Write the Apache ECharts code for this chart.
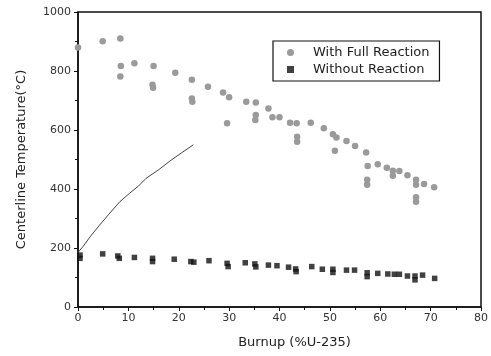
<!DOCTYPE html>
<html><head><meta charset="utf-8">
<script src="https://cdn.jsdelivr.net/npm/echarts@6/dist/echarts.min.js"></script>
<style>html,body{margin:0;padding:0;background:#fff}#c{width:491px;height:356px}</style>
</head><body><div id="c"></div>
<script>
var xTicks = [0,10,20,30,40,50,60,70,80];
var yTicks = [0,200,400,600,800,1000];
var withFullReaction = [
 [0,880],[4.9,901],[8.4,910],[8.5,817],[8.4,781],[11.2,826],[15.0,817],[14.8,753],[14.9,743],
 [19.3,794],[22.6,770],[22.6,707],[22.7,696],[25.8,747],[28.8,727],[30.0,711],[29.6,623],
 [33.4,696],[35.3,693],[35.3,651],[35.2,634],[37.8,673],[38.6,643],[40.0,643],[42.1,625],
 [43.4,623],[43.5,577],[43.5,560],[46.2,625],[48.8,606],[50.6,586],[51.3,575],[51.0,530],
 [53.3,563],[55.0,546],[57.2,524],[57.5,478],[59.5,484],[57.4,431],[57.4,414],[61.3,472],
 [62.5,462],[62.5,445],[63.8,461],[65.4,447],[67.1,431],[67.1,414],[67.1,372],[67.1,357],
 [68.7,417],[70.7,406]
];
var withoutReaction = [
 [0.4,176],[0.4,165],[4.9,180],[7.9,173],[8.2,165],[11.2,168],[14.8,165],[14.8,154],
 [19.1,162],[22.4,154],[23.0,152],[26.0,157],[29.6,148],[29.8,137],[33.2,150],[35.1,146],
 [35.3,136],[37.8,142],[39.5,140],[41.8,135],[43.2,129],[43.3,120],[46.4,137],[48.5,128],
 [50.6,128],[50.6,117],[53.3,125],[54.9,125],[57.4,116],[57.4,103],[59.5,114],[61.5,112],
 [62.8,111],[63.8,111],[65.4,105],[66.9,105],[66.9,92],[68.4,108],[70.8,97]
];
var modelLine = [
 [0,185],[1,205],[2.4,238],[4.3,278],[6,312],[8.3,357],[10.2,385],[12,410],[13.5,436],
 [16,465],[18.1,493],[20.5,522],[22.9,550]
];
var chart = echarts.init(document.getElementById('c'));
var font = 'DejaVu Sans';
chart.setOption({
  animation: false,
  backgroundColor: '#fff',
  grid: {left: 78, right: 7, top: 12, bottom: 49, show: true, borderColor: '#111', borderWidth: 1.5, backgroundColor: 'transparent'},
  legend: {
    left: 273, top: 41, width: 170, orient: 'vertical',
    borderColor: '#111', borderWidth: 1.2, padding: [5, 10, 5, 14], itemGap: 4,
    itemWidth: 7, itemHeight: 7,
    textStyle: {fontFamily: font, fontSize: 13, color: '#222', padding: [0,0,0,14]},
    data: [
      {name: 'With Full Reaction', icon: 'circle'},
      {name: 'Without Reaction', icon: 'rect'}
    ]
  },
  xAxis: {
    type: 'value', min: 0, max: 80, interval: 10,
    name: 'Burnup (%U-235)', nameLocation: 'middle', nameGap: 29,
    nameTextStyle: {fontFamily: font, fontSize: 13, color: '#222', padding: [0,0,0,30]},
    axisLine: {show: true, onZero: false, lineStyle: {color: '#111', width: 1.5}},
    axisTick: {show: true, inside: false, length: 4, lineStyle: {color: '#111'}},
    minorTick: {show: true, splitNumber: 2, length: 3, lineStyle: {color: '#111'}},
    splitLine: {show: false},
    axisLabel: {fontFamily: font, fontSize: 11, color: '#333', margin: 6,
      formatter: function(v){ return xTicks.indexOf(v) >= 0 ? String(v) : ''; }}
  },
  yAxis: {
    type: 'value', min: 0, max: 1000, interval: 200,
    name: 'Centerline Temperature(°C)', nameLocation: 'middle', nameGap: 50,
    nameTextStyle: {fontFamily: font, fontSize: 13, color: '#222'},
    axisLine: {show: true, onZero: false, lineStyle: {color: '#111', width: 1.5}},
    axisTick: {show: true, inside: false, length: 4, lineStyle: {color: '#111'}},
    minorTick: {show: true, splitNumber: 2, length: 3, lineStyle: {color: '#111'}},
    splitLine: {show: false},
    axisLabel: {fontFamily: font, fontSize: 11, color: '#333', margin: 7,
      formatter: function(v){ return yTicks.indexOf(v) >= 0 ? String(v) : ''; }}
  },
  series: [
    {name: 'With Full Reaction', type: 'scatter', data: withFullReaction, symbol: 'circle', symbolSize: 6.5,
     itemStyle: {color: '#9a9a9a', opacity: 1}},
    {name: 'Without Reaction', type: 'scatter', data: withoutReaction, symbol: 'rect', symbolSize: 5.5,
     itemStyle: {color: '#111'}},
    {name: 'model', type: 'line', data: modelLine, showSymbol: false, symbol: 'none',
     lineStyle: {color: '#444', width: 1}}
  ]
});
</script></body></html>
